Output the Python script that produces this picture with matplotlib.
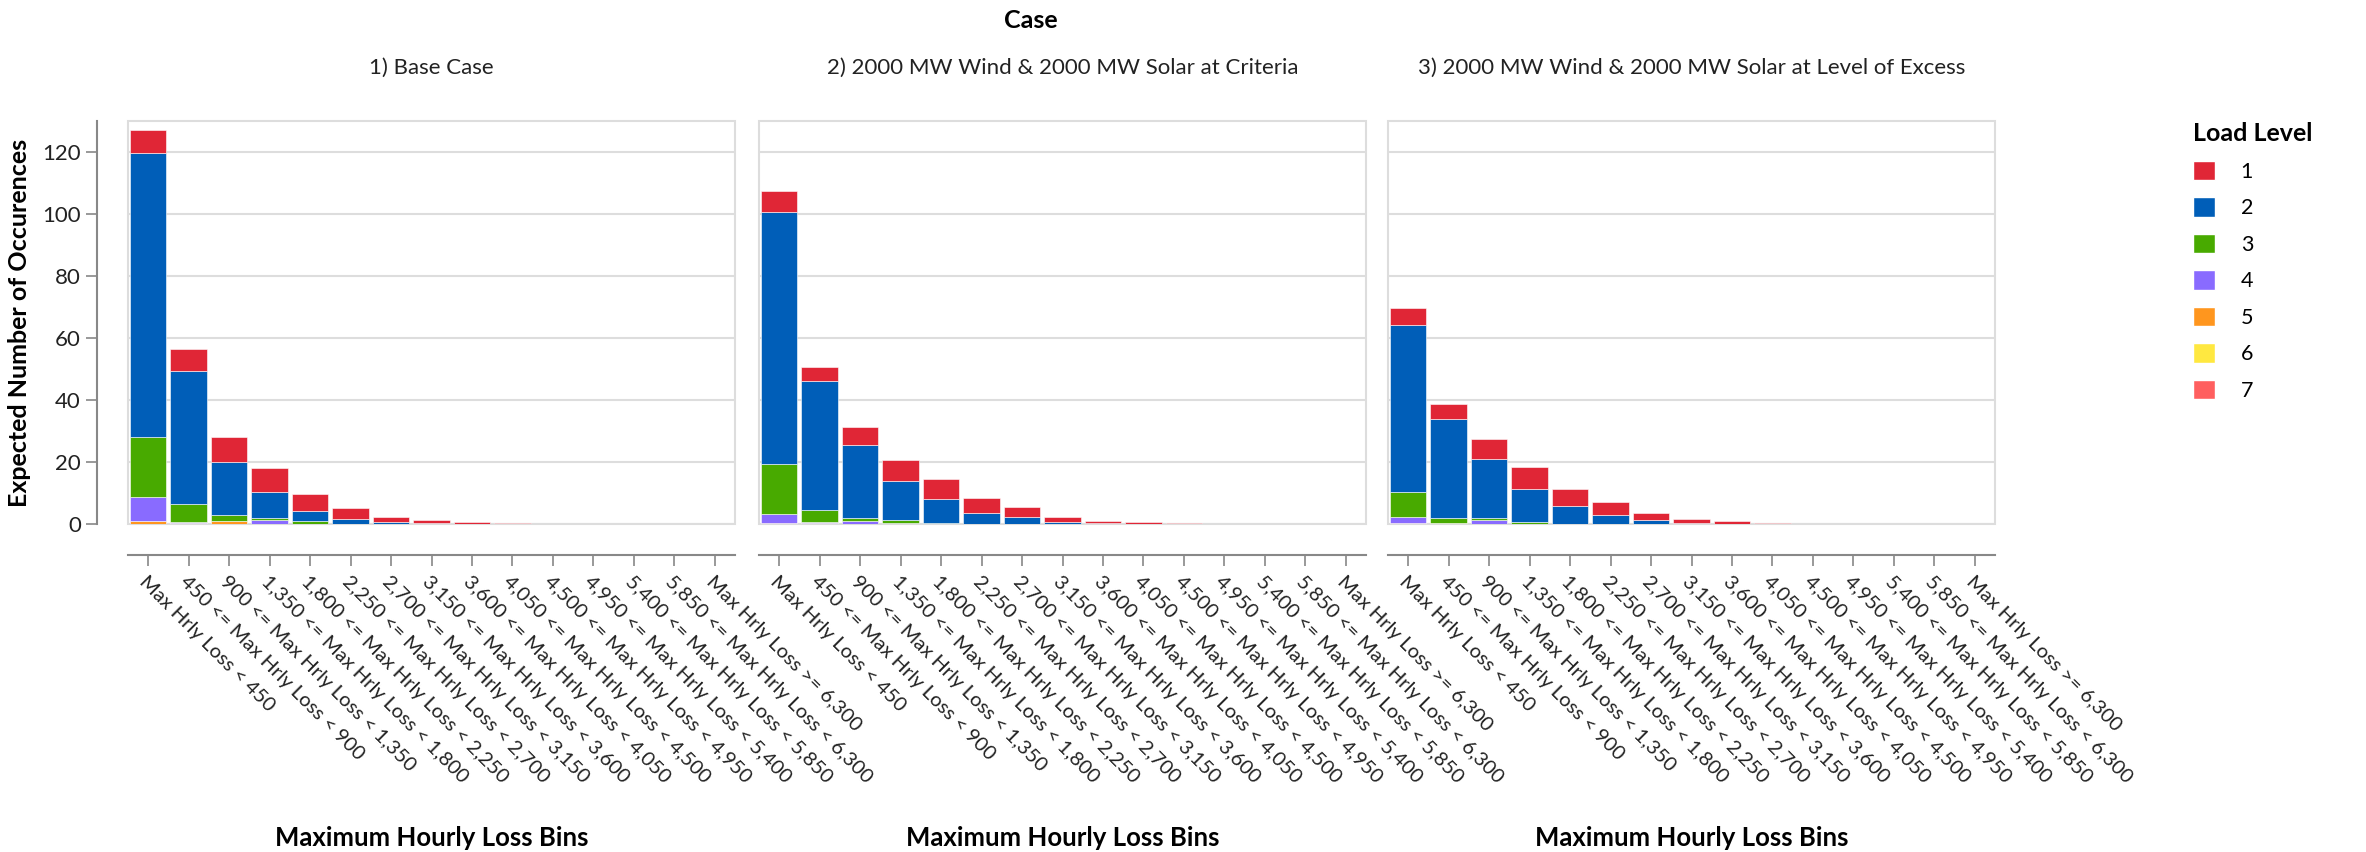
import matplotlib
matplotlib.use('Agg')
import matplotlib.pyplot as plt
import numpy as np
from matplotlib.patches import Rectangle, Patch

plt.rcParams['font.family'] = ['Lato', 'DejaVu Sans']

# Bin labels on the x axis
bins = [
    'Max Hrly Loss < 450',
    '450 <= Max Hrly Loss < 900',
    '900 <= Max Hrly Loss < 1,350',
    '1,350 <= Max Hrly Loss < 1,800',
    '1,800 <= Max Hrly Loss < 2,250',
    '2,250 <= Max Hrly Loss < 2,700',
    '2,700 <= Max Hrly Loss < 3,150',
    '3,150 <= Max Hrly Loss < 3,600',
    '3,600 <= Max Hrly Loss < 4,050',
    '4,050 <= Max Hrly Loss < 4,500',
    '4,500 <= Max Hrly Loss < 4,950',
    '4,950 <= Max Hrly Loss < 5,400',
    '5,400 <= Max Hrly Loss < 5,850',
    '5,850 <= Max Hrly Loss < 6,300',
    'Max Hrly Loss >= 6,300',
]

case_titles = [
    '1) Base Case',
    '2) 2000 MW Wind & 2000 MW Solar at Criteria',
    '3) 2000 MW Wind & 2000 MW Solar at Level of Excess',
]

load_levels = ['1', '2', '3', '4', '5', '6', '7']
level_colors = ['#e02636', '#005eb8', '#48aa00', '#896bff', '#ff961e', '#ffe840', '#ff5f5f']

# Case 1 - Base Case, expected occurrences by load level
base_l1 = [7.4, 7.2, 8.1, 7.7, 5.4, 3.7, 1.8, 0.9, 0.5, 0.25, 0.12, 0.06, 0.03, 0.01, 0.0]
base_l2 = [91.4, 43.1, 17.1, 8.4, 3.2, 1.4, 0.55, 0.3, 0.05, 0.02, 0.0, 0.0, 0.0, 0.0, 0.0]
base_l3 = [19.6, 5.7, 1.8, 0.6, 0.85, 0.1, 0.0, 0.0, 0.0, 0.0, 0.0, 0.0, 0.0, 0.0, 0.0]
base_l4 = [7.5, 0.4, 0.1, 1.3, 0.1, 0.0, 0.0, 0.0, 0.0, 0.0, 0.0, 0.0, 0.0, 0.0, 0.0]
base_l5 = [1.05, 0.2, 0.85, 0.05, 0.0, 0.0, 0.0, 0.0, 0.0, 0.0, 0.0, 0.0, 0.0, 0.0, 0.0]
base_l6 = [0.0] * 15
base_l7 = [0.0] * 15

# Case 2 - wind & solar at criteria
crit_l1 = [7.0, 4.6, 5.9, 6.7, 6.7, 4.8, 3.3, 1.5, 0.85, 0.55, 0.3, 0.1, 0.02, 0.0, 0.0]
crit_l2 = [81.2, 41.7, 23.7, 12.5, 7.7, 3.4, 2.1, 0.75, 0.2, 0.05, 0.0, 0.0, 0.0, 0.0, 0.0]
crit_l3 = [16.1, 4.0, 0.85, 1.0, 0.2, 0.05, 0.0, 0.0, 0.0, 0.0, 0.0, 0.0, 0.0, 0.0, 0.0]
crit_l4 = [3.0, 0.1, 0.85, 0.4, 0.05, 0.0, 0.0, 0.0, 0.0, 0.0, 0.0, 0.0, 0.0, 0.0, 0.0]
crit_l5 = [0.2, 0.4, 0.1, 0.0, 0.0, 0.0, 0.0, 0.0, 0.0, 0.0, 0.0, 0.0, 0.0, 0.0, 0.0]
crit_l6 = [0.0] * 15
crit_l7 = [0.0] * 15

# Case 3 - wind & solar at level of excess
exc_l1 = [5.6, 4.9, 6.4, 6.8, 5.8, 4.3, 2.2, 1.2, 0.75, 0.4, 0.15, 0.1, 0.02, 0.0, 0.0]
exc_l2 = [53.9, 32.1, 18.9, 10.7, 5.6, 2.9, 1.2, 0.4, 0.1, 0.02, 0.0, 0.0, 0.0, 0.0, 0.0]
exc_l3 = [8.1, 1.4, 0.85, 0.65, 0.05, 0.0, 0.0, 0.0, 0.0, 0.0, 0.0, 0.0, 0.0, 0.0, 0.0]
exc_l4 = [1.8, 0.1, 1.1, 0.1, 0.0, 0.0, 0.0, 0.0, 0.0, 0.0, 0.0, 0.0, 0.0, 0.0, 0.0]
exc_l5 = [0.3, 0.3, 0.05, 0.0, 0.0, 0.0, 0.0, 0.0, 0.0, 0.0, 0.0, 0.0, 0.0, 0.0, 0.0]
exc_l6 = [0.0] * 15
exc_l7 = [0.0] * 15

cases = [
    [base_l1, base_l2, base_l3, base_l4, base_l5, base_l6, base_l7],
    [crit_l1, crit_l2, crit_l3, crit_l4, crit_l5, crit_l6, crit_l7],
    [exc_l1, exc_l2, exc_l3, exc_l4, exc_l5, exc_l6, exc_l7],
]

W, H = 2366, 852
fig = plt.figure(figsize=(W / 100, H / 100), dpi=100)

panel_left = [128, 759, 1388]
panel_w = 607
plot_top = 121
plot_bottom = 524
grid_col = '#dddddd'
axis_col = '#888888'

x = np.arange(len(bins))
for i, levels in enumerate(cases):
    ax = fig.add_axes([panel_left[i] / W, 1 - plot_bottom / H,
                       panel_w / W, (plot_bottom - plot_top) / H])
    # stack from the highest level at the bottom up to level 1 on top
    bottom = np.zeros(len(bins))
    for lvl in range(len(load_levels) - 1, -1, -1):
        vals = np.array(levels[lvl])
        ax.bar(x, vals, bottom=bottom, width=0.9, color=level_colors[lvl],
               edgecolor='white', linewidth=0.4, zorder=3)
        bottom += vals

    ax.set_xlim(-0.5, len(bins) - 0.5)
    ax.set_ylim(0, 130)
    ax.set_yticks(range(0, 121, 20))
    ax.yaxis.grid(True, color=grid_col, linewidth=1.5, zorder=0)
    ax.set_axisbelow(True)

    # frame around the plot area
    ax.add_patch(Rectangle((0, 0), 1, 1, transform=ax.transAxes, fill=False,
                           edgecolor=grid_col, linewidth=1.5, zorder=1, clip_on=False))
    ax.spines['top'].set_visible(False)
    ax.spines['right'].set_visible(False)
    ax.spines['bottom'].set_position(('outward', 22))
    ax.spines['bottom'].set_color(axis_col)
    ax.spines['bottom'].set_linewidth(1.5)

    ax.set_xticks(x)
    ax.set_xticklabels(bins, rotation=-45, ha='left', va='top',
                       rotation_mode='anchor', fontsize=14.5, color='#222222')
    ax.tick_params(axis='x', length=8, width=1.2, color=axis_col, pad=5)

    if i == 0:
        ax.spines['left'].set_position(('outward', 22))
        ax.spines['left'].set_color(axis_col)
        ax.spines['left'].set_linewidth(1.5)
        ax.tick_params(axis='y', length=8, width=1.2, color=axis_col,
                       labelsize=16, labelcolor='#222222', pad=4)
        ax.set_ylabel('Expected Number of Occurences', fontsize=18,
                      fontweight='bold', labelpad=8)
    else:
        ax.spines['left'].set_visible(False)
        ax.tick_params(axis='y', length=0, labelleft=False)

    ax.set_xlabel('Maximum Hourly Loss Bins', fontsize=18.5, fontweight='bold')
    ax.xaxis.set_label_coords(0.5, -0.75)
    ax.set_title(case_titles[i], fontsize=16, pad=34, color='#222222')

fig.text(1031 / W, 1 - 20 / H, 'Case', ha='center', va='center',
         fontsize=18, fontweight='bold')

handles = [Patch(facecolor=c, edgecolor='white', label=l)
           for c, l in zip(level_colors, load_levels)]
leg = fig.legend(handles=handles, title='Load Level', loc='upper left',
                 bbox_to_anchor=(2174 / W, 1 - 103 / H), frameon=False,
                 fontsize=15.5, title_fontsize=18, handlelength=1.0,
                 handleheight=1.0, labelspacing=0.72, handletextpad=1.2,
                 alignment='left')
leg.get_title().set_fontweight('bold')

fig.savefig('out.png', dpi=100)
